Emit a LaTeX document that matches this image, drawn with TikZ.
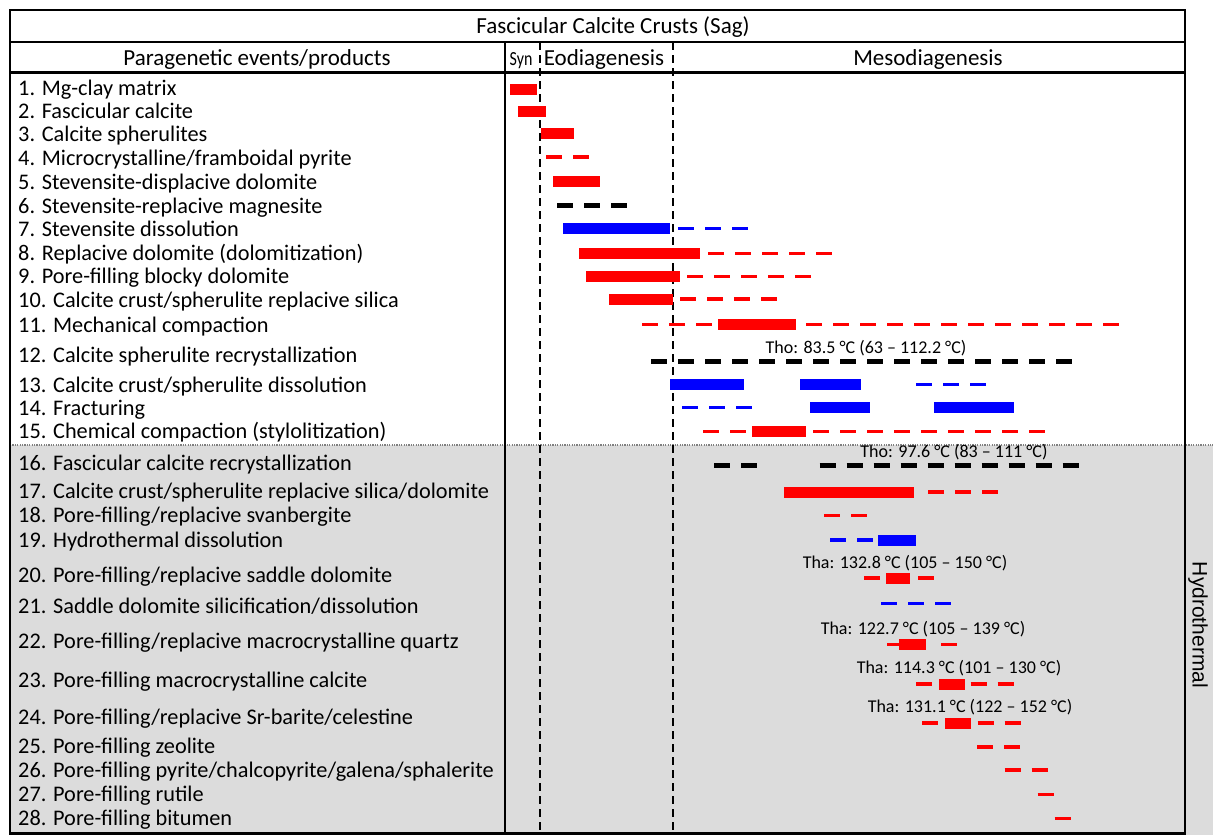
\documentclass[tikz,border=0pt]{standalone}
\usepackage{fontspec}
\setmainfont{Carlito}
\newfontfamily\hydfont{Liberation Sans}
\definecolor{hydgray}{HTML}{DCDCDC}
\begin{document}
\begin{tikzpicture}[x=1pt,y=-1pt,
  rowtxt/.style={anchor=west,inner sep=0pt,yshift=-2pt,text height=15pt,text depth=4pt,font=\fontsize{22.3}{24}\selectfont},
  hdr/.style={inner sep=0pt,yshift=-1.5pt,text height=15pt,text depth=4pt,font=\fontsize{23}{25}\selectfont},
  tlab/.style={inner sep=0pt,text height=12pt,text depth=3pt,font=\fontsize{18}{19}\selectfont},
  frame/.style={line width=2.2pt},
  phase/.style={line width=1.4pt,dash pattern=on 8pt off 5pt},
  rd/.style={draw=red,line width=3.8pt,dash pattern=on 16pt off 11pt},
  bd/.style={draw=blue,line width=3.8pt,dash pattern=on 16pt off 11pt},
  kd/.style={draw=black,line width=5pt,dash pattern=on 16pt off 11pt},
  rs/.style={fill=red},
  bs/.style={fill=blue},
]
\newcommand\sbar[4]{\fill[#1] (#2,#4-5.5) rectangle (#3,#4+5.5);}
\newcommand\dbar[4]{\draw[#1] (#2,#4) -- (#3,#4);}
\useasboundingbox (0,0) rectangle (1213,835);
\fill[white] (0,0) rectangle (1213,835);
\fill[hydgray] (10,445) rectangle (1213,835);
\draw[gray,line width=1.5pt,dash pattern=on 1.2pt off 1.2pt] (10,445) -- (1213,445);

% phase lines
\draw[phase] (540,42) -- (540,835);
\draw[phase] (673,42) -- (673,835);

% frame
\draw[frame] (10,835) -- (10,10) -- (1185,10) -- (1185,835);
\draw[frame] (10,42) -- (1185,42);
\draw[line width=3pt] (10,72) -- (1185,72);
\draw[frame] (505,42) -- (505,835);
\draw[frame] (10,833.5) -- (1185,833.5);

% headers
\node[hdr] (title) at (613,27) {Fascicular Calcite Crusts (Sag)};
\node[hdr] (hpar) at (257,58) {Paragenetic events/products};
\node[hdr,xscale=0.8,font=\fontsize{20}{22}\selectfont] (hsyn) at (521,58) {Syn};
\node[hdr] (heo) at (604,58) {Eodiagenesis};
\node[hdr] (hmeso) at (928,58) {Mesodiagenesis};
\node[rotate=-90,inner sep=0pt,font=\hydfont\fontsize{21}{23}\selectfont] (hyd) at (1198,625) {Hydrothermal};

% row texts
\node[rowtxt] (r1) at (18,88) {1. Mg-clay matrix};
\node[rowtxt] (r2) at (18,111) {2. Fascicular calcite};
\node[rowtxt] (r3) at (18,134) {3. Calcite spherulites};
\node[rowtxt] (r4) at (18,158) {4. Microcrystalline/framboidal pyrite};
\node[rowtxt] (r5) at (18,182) {5. Stevensite-displacive dolomite};
\node[rowtxt] (r6) at (18,206) {6. Stevensite-replacive magnesite};
\node[rowtxt] (r7) at (18,229) {7. Stevensite dissolution};
\node[rowtxt] (r8) at (18,253) {8. Replacive dolomite (dolomitization)};
\node[rowtxt] (r9) at (18,276) {9. Pore-filling blocky dolomite};
\node[rowtxt] (r10) at (18,300) {10. Calcite crust/spherulite replacive silica};
\node[rowtxt] (r11) at (18,325) {11. Mechanical compaction};
\node[rowtxt] (r12) at (18,355) {12. Calcite spherulite recrystallization};
\node[rowtxt] (r13) at (18,385) {13. Calcite crust/spherulite dissolution};
\node[rowtxt] (r14) at (18,408) {14. Fracturing};
\node[rowtxt] (r15) at (18,431) {15. Chemical compaction (stylolitization)};
\node[rowtxt] (r16) at (18,463) {16. Fascicular calcite recrystallization};
\node[rowtxt] (r17) at (18,491) {17. Calcite crust/spherulite replacive silica/dolomite};
\node[rowtxt] (r18) at (18,515) {18. Pore-filling/replacive svanbergite};
\node[rowtxt] (r19) at (18,540) {19. Hydrothermal dissolution};
\node[rowtxt] (r20) at (18,575) {20. Pore-filling/replacive saddle dolomite};
\node[rowtxt] (r21) at (18,606) {21. Saddle dolomite silicification/dissolution};
\node[rowtxt] (r22) at (18,641) {22. Pore-filling/replacive macrocrystalline quartz};
\node[rowtxt] (r23) at (18,680) {23. Pore-filling macrocrystalline calcite};
\node[rowtxt] (r24) at (18,717) {24. Pore-filling/replacive Sr-barite/celestine};
\node[rowtxt] (r25) at (18,746) {25. Pore-filling zeolite};
\node[rowtxt] (r26) at (18,770) {26. Pore-filling pyrite/chalcopyrite/galena/sphalerite};
\node[rowtxt] (r27) at (18,794) {27. Pore-filling rutile};
\node[rowtxt] (r28) at (18,818) {28. Pore-filling bitumen};

% temperature labels
\node[tlab] (t12) at (866,349) {Tho: 83.5 °C (63 – 112.2 °C)};
\node[tlab] (t16) at (954,453) {Tho: 97.6 °C (83 – 111 °C)};
\node[tlab] (t20) at (905,564) {Tha: 132.8 °C (105 – 150 °C)};
\node[tlab] (t22) at (923,630) {Tha: 122.7 °C (105 – 139 °C)};
\node[tlab] (t23) at (959,669) {Tha: 114.3 °C (101 – 130 °C)};
\node[tlab] (t24) at (970,708) {Tha: 131.1 °C (122 – 152 °C)};

% bars
\sbar{rs}{510}{537}{89.5}
\sbar{rs}{517.5}{546}{111.5}
\sbar{rs}{540.5}{573.5}{133.5}
\dbar{rd}{546}{590}{157}
\sbar{rs}{553}{600}{181}
\dbar{kd}{557}{627}{205}
\sbar{bs}{562.5}{669.5}{228.5}
\dbar{bd}{678}{748}{228.5}
\sbar{rs}{579}{700}{253.5}
\dbar{rd}{708}{832}{253.5}
\sbar{rs}{586}{680}{276.5}
\dbar{rd}{687}{811}{276.5}
\sbar{rs}{609}{673}{299}
\dbar{rd}{680}{777}{299}
\dbar{rd}{642}{712}{324.5}
\sbar{rs}{718}{795.5}{324.5}
\dbar{rd}{806}{1119}{324.5}
\dbar{kd}{651}{1072}{361}
\sbar{bs}{670}{743.5}{384.5}
\sbar{bs}{800}{860.5}{384.5}
\dbar{bd}{916}{986}{384.5}
\dbar{bd}{682}{752}{407.5}
\sbar{bs}{809.5}{869.5}{407.5}
\sbar{bs}{934}{1014}{407.5}
\dbar{rd}{703}{746}{431.5}
\sbar{rs}{752}{806}{431.5}
\dbar{rd}{813}{1045}{431.5}
\dbar{kd}{714}{757}{465}
\dbar{kd}{819.5}{1078.5}{465}
\sbar{rs}{784}{914}{492}
\dbar{rd}{928}{998}{492}
\dbar{rd}{824}{867}{515.5}
\dbar{bd}{830}{873}{540}
\sbar{bs}{878}{916}{540}
\dbar{rd}{864}{880}{578}
\sbar{rs}{886}{910}{578}
\dbar{rd}{918}{934}{578}
\dbar{bd}{881}{951}{603.5}
\dbar{rd}{887}{903}{644.5}
\sbar{rs}{899}{925.5}{644.5}
\dbar{rd}{941}{957}{644.5}
\dbar{rd}{916}{932}{684}
\sbar{rs}{939}{965}{684}
\dbar{rd}{970.5}{1014}{684}
\dbar{rd}{922}{938}{723}
\sbar{rs}{945}{971}{723}
\dbar{rd}{977.5}{1021}{723}
\dbar{rd}{977}{1020}{747}
\dbar{rd}{1004.5}{1048}{770}
\dbar{rd}{1037.5}{1053.5}{794.5}
\dbar{rd}{1054.5}{1070.5}{818.5}
\end{tikzpicture}
\end{document}
